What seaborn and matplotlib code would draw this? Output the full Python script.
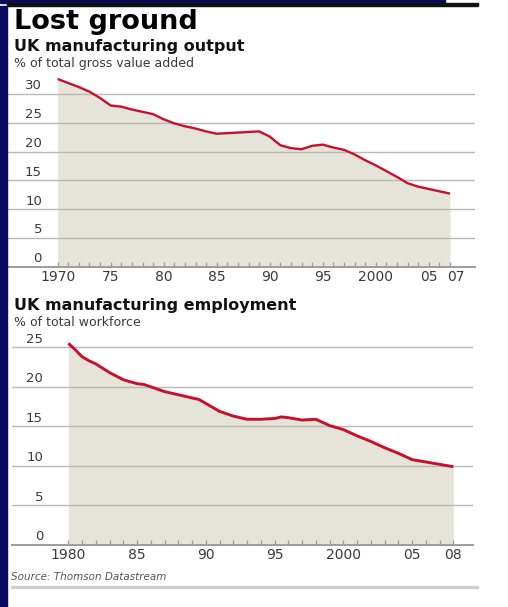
import numpy as np
import pandas as pd
import matplotlib
matplotlib.use("Agg")
import matplotlib.pyplot as plt
import matplotlib.transforms as mtransforms
from matplotlib.patches import Rectangle
import seaborn as sns

# ---------------- data ----------------
out_years = [1970, 1971, 1972, 1973, 1974, 1975, 1976, 1977, 1978, 1979,
             1980, 1981, 1982, 1983, 1984, 1985, 1986, 1987, 1988, 1989,
             1990, 1991, 1992, 1993, 1994, 1995, 1996, 1997, 1998, 1999,
             2000, 2001, 2002, 2003, 2004, 2005, 2006, 2007]
out_values = [32.6, 31.9, 31.2, 30.4, 29.3, 28.0, 27.8, 27.3, 26.9, 26.5,
              25.6, 24.9, 24.4, 24.0, 23.5, 23.1, 23.2, 23.3, 23.4, 23.5,
              22.6, 21.1, 20.6, 20.4, 21.0, 21.2, 20.7, 20.3, 19.5, 18.5,
              17.6, 16.6, 15.6, 14.5, 13.9, 13.5, 13.1, 12.7]

emp_years = [1980.0, 1980.5, 1981.0, 1981.5, 1982.0, 1983.0, 1984.0, 1985.0,
             1985.5, 1986.0, 1987.0, 1988.0, 1989.0, 1989.5, 1990.0, 1991.0,
             1992.0, 1993.0, 1994.0, 1995.0, 1995.5, 1996.0, 1997.0, 1998.0,
             1999.0, 2000.0, 2001.0, 2002.0, 2003.0, 2004.0, 2005.0, 2006.0,
             2007.0, 2008.0]
emp_values = [25.5, 24.7, 23.8, 23.3, 22.9, 21.8, 20.9, 20.4,
              20.3, 20.0, 19.4, 19.0, 18.6, 18.4, 17.9, 16.9,
              16.3, 15.9, 15.9, 16.0, 16.2, 16.1, 15.8, 15.9,
              15.1, 14.6, 13.8, 13.1, 12.3, 11.6, 10.8, 10.5,
              10.2, 9.9]

out_ticks = [1970, 1975, 1980, 1985, 1990, 1995, 2000, 2005, 2007]
out_ticklabels = ["1970", "75", "80", "85", "90", "95", "2000", "05", "07"]
emp_ticks = [1980, 1985, 1990, 1995, 2000, 2005, 2008]
emp_ticklabels = ["1980", "85", "90", "95", "2000", "05", "08"]
out_yticks = [0, 5, 10, 15, 20, 25, 30]
emp_yticks = [0, 5, 10, 15, 20, 25]

title = "Lost ground"
out_title = "UK manufacturing output"
out_sub = "% of total gross value added"
emp_title = "UK manufacturing employment"
emp_sub = "% of total workforce"
source = "Source: Thomson Datastream"

# ---------------- style ----------------
sns.set_style("white")
plt.rcParams['font.family'] = ['DejaVu Sans']

W, H = 508, 607
fig = plt.figure(figsize=(W / 100, H / 100), dpi=100)
fig.patch.set_facecolor("white")

def rect(l, t, r, b):
    return [l / W, 1 - b / H, (r - l) / W, (b - t) / H]

LINE = "#c8102e"
FILL = "#e6e3d8"
GRID = "#b8b8b8"
AXIS = "#9a9a9a"
TXT = "#3a3a3a"

def panel(box, years, values, xlim, ylim, ticks, ticklabels, yticks, ylab_px, lw):
    ax = fig.add_axes(rect(*box))
    df = pd.DataFrame({"year": years, "value": values})
    ax.fill_between(df["year"], 0, df["value"], color=FILL, lw=0, zorder=1)
    sns.lineplot(data=df, x="year", y="value", ax=ax, color=LINE, lw=lw,
                 zorder=4, solid_capstyle="butt")
    ax.set_xlim(*xlim)
    ax.set_ylim(*ylim)
    ax.set_xlabel("")
    ax.set_ylabel("")
    for s in ["top", "right", "left"]:
        ax.spines[s].set_visible(False)
    ax.spines["bottom"].set_color(AXIS)
    ax.spines["bottom"].set_linewidth(1.4)
    ax.set_yticks(yticks)
    ax.yaxis.grid(True, color=GRID, lw=1.0, zorder=2)
    ax.set_axisbelow(False)
    ax.tick_params(axis="y", length=0, labelleft=False, left=False)
    ax.set_xticks(ticks)
    ax.set_xticklabels(ticklabels)
    first = int(np.ceil(min(years)))
    last = int(np.ceil(max(years)))
    ax.set_xticks(list(range(first, last + 1)), minor=True)
    ax.tick_params(axis="x", which="both", bottom=True, direction="in", length=3.5,
                   width=0.9, color=AXIS, labelsize=10, labelcolor=TXT, pad=2.5)
    tr = mtransforms.blended_transform_factory(ax.transAxes, ax.transData)
    xfrac = (ylab_px - box[0]) / (box[2] - box[0])
    off = mtransforms.ScaledTranslation(0, 1.5 / 100, fig.dpi_scale_trans)
    for v in yticks:
        ax.text(xfrac, v, str(v), transform=tr + off, ha="right", va="bottom",
                fontsize=9.5, color=TXT)
    return ax

ax1 = panel((7, 65.2, 475, 266.7), out_years, out_values,
            (1965.22, 2009.36), (0, 35), out_ticks, out_ticklabels,
            out_yticks, 42, 1.7)
ax2 = panel((11.7, 331.5, 473, 545), emp_years, emp_values,
            (1975.88, 2009.43), (0, 27), emp_ticks, emp_ticklabels,
            emp_yticks, 43, 2.1)

# nudge crowded last labels
for ax, dx in ((ax1, 6), (ax2, 0)):
    lab = ax.get_xticklabels()[-1]
    lab.set_transform(lab.get_transform() +
                      mtransforms.ScaledTranslation(dx / 100, 0, fig.dpi_scale_trans))

# ---------------- texts ----------------
def ftext(x, y, s, **kw):
    fig.text(x / W, 1 - y / H, s, va="baseline", ha="left", **kw)

ftext(14, 29, title, fontsize=19.5, fontweight="bold", color="black")
ftext(14, 51, out_title, fontsize=11.5, fontweight="bold", color="#111111")
ftext(14, 67, out_sub, fontsize=9, color=TXT)
ftext(14, 310, emp_title, fontsize=11.5, fontweight="bold", color="#111111")
ftext(14, 326, emp_sub, fontsize=9, color=TXT)
ftext(11, 580, source, fontsize=7.5, style="italic", color="#555555")

# ---------------- frame decorations ----------------
fig.patches.append(Rectangle((0, 0), 7 / W, 1 - 6 / H, transform=fig.transFigure,
                             color="#0b0b5e", zorder=0))
fig.patches.append(Rectangle((0, 1 - 3 / H), 445 / W, 3 / H, transform=fig.transFigure,
                             color="#0b0b5e", zorder=0))
fig.patches.append(Rectangle((7 / W, 1 - 6 / H), 471 / W, 2.5 / H,
                             transform=fig.transFigure, color="#111111", zorder=0))
fig.patches.append(Rectangle((11 / W, 1 - 587.5 / H), 467 / W, 1.5 / H,
                             transform=fig.transFigure, color="#d0d0d0", zorder=0))

fig.savefig("out.png", dpi=100, facecolor="white")
